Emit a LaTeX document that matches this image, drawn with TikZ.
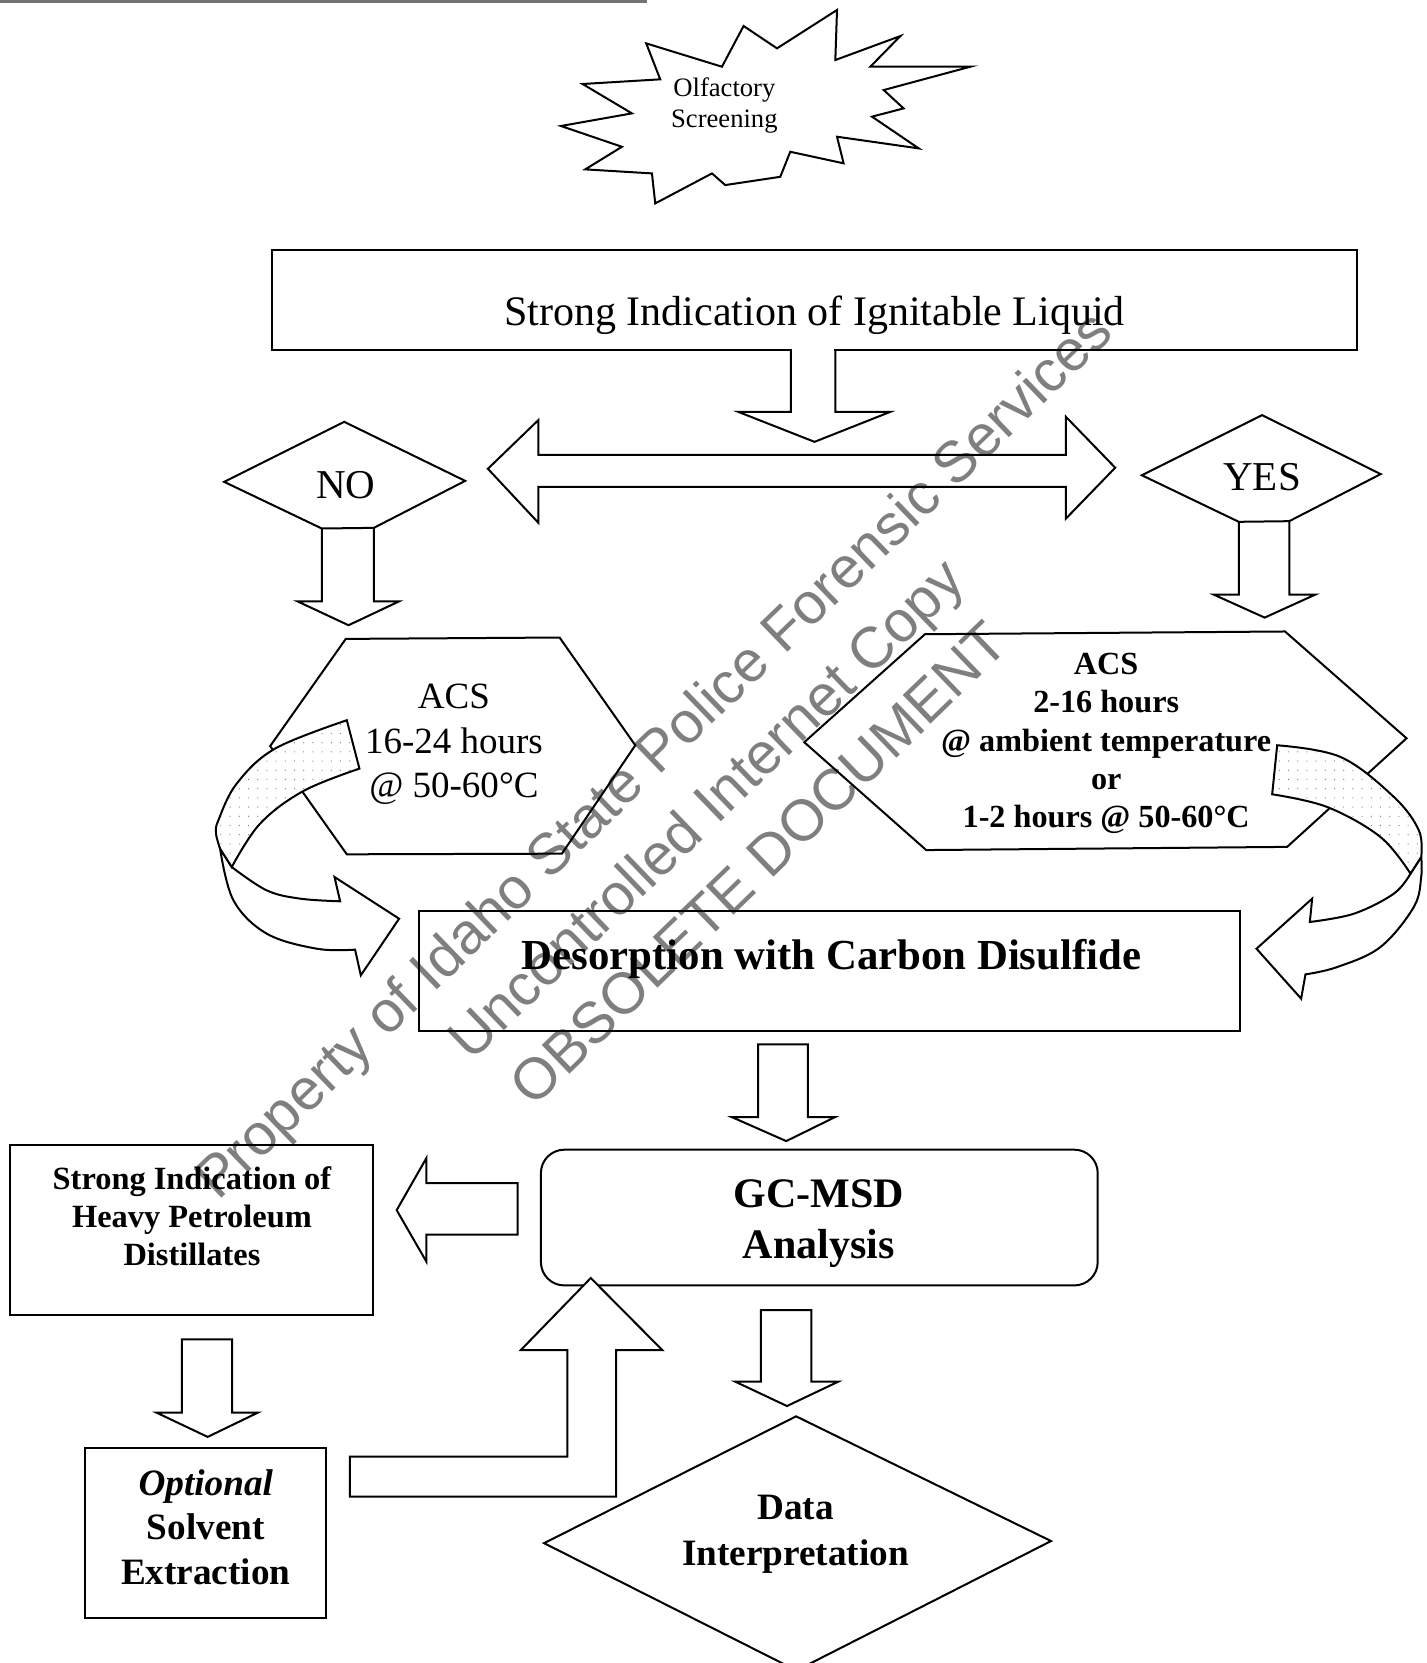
\documentclass[tikz,border=0pt]{standalone}
\usepackage{fontspec}
\setmainfont{Liberation Serif}
\newfontfamily\wmfont{Liberation Sans}
\usetikzlibrary{patterns.meta}
\newcommand{\myfs}[2]{\fontsize{#1}{#2}\selectfont}
\begin{document}
\begin{tikzpicture}[x=0.5301pt,y=-0.5301pt,line join=miter,
  outl/.style={draw=black,line width=1pt,fill=white},
  sidel/.style={draw=black,line width=1pt},
  txt/.style={align=center,inner sep=0pt,text=black},
  dotted back/.style={draw=black,line width=1pt,preaction={fill=white},
     pattern={Dots[radius=0.3pt,distance=4.6pt]},pattern color=black!55}]
\useasboundingbox (0,0) rectangle (1345,1568);

% scan line at top
\draw[line width=1.6pt,black!55] (0,1.5) -- (610,1.5);

% starburst
\draw[outl] (528.9,118.8) -- (586.4,138.4) -- (551.8,159.7) -- (614.7,163.5) -- (617.8,191.8)
  -- (671.3,163.5) -- (683.8,174.5) -- (735.7,166.7) -- (745.1,143.1) -- (795.4,154)
  -- (789.2,128.9) -- (866.2,139.9) -- (822.2,110) -- (852,102.2) -- (833.2,84.9)
  -- (914.9,62.9) -- (820.6,62.9) -- (848.9,34) -- (787.6,56.6) -- (789.2,9.4)
  -- (732.6,45.6) -- (701.1,24.5) -- (680.7,62.9) -- (609.3,40.9) -- (622.5,74.8)
  -- (549.3,79.2) -- (595.8,106.9) -- cycle;
\node[txt,font=\myfs{13.3}{15.9}] (olf) at (683,99.5) {Olfactory\\Screening};

% big box
\draw[outl] (256,236) rectangle (1279,330);
\node[txt,font=\myfs{21}{25}] (big) at (768,297) {Strong Indication of Ignitable Liquid};
% arrow from big box
\fill[white] (746.6,326) rectangle (786.6,333.5);
\draw[sidel] (745.6,330) -- (745.6,388.3) -- (696,388.3) -- (768,416.6) -- (839.5,388.3) -- (787.6,388.3) -- (787.6,330);

% double arrow
\draw[outl] (460,442) -- (507.7,396) -- (507.7,429) -- (1005,429) -- (1005,393) -- (1051.5,441)
  -- (1005,489) -- (1005,459) -- (507.7,459) -- (507.7,493) -- cycle;

% NO diamond and arrow
\draw[outl] (211.3,454.3) -- (324.5,397.7) -- (438.6,453.4) -- (352.5,497.7) -- (303.4,498.3) -- cycle;
\node[txt,font=\myfs{20.5}{24}] (no) at (326,457) {NO};
\draw[sidel] (303.4,498.3) -- (303.4,567) -- (280.5,567) -- (328.6,589.5) -- (376.3,567) -- (352.5,567) -- (352.5,497.7);

% YES diamond and arrow
\draw[outl] (1076.6,448.1) -- (1190,391.4) -- (1301.8,447) -- (1215.6,491.4) -- (1168,492) -- cycle;
\node[txt,font=\myfs{20.5}{24}] (yes) at (1190,450) {YES};
\draw[sidel] (1168,492) -- (1168,560.7) -- (1144.5,560.7) -- (1192.4,582.3) -- (1240,560.7) -- (1215.6,560.7) -- (1215.6,491.4);

% hexagons
\draw[outl] (326,602.4) -- (527.6,601.1) -- (599,702.7) -- (529.8,804.9) -- (327,805.5) -- (254.7,703.5) -- cycle;
\node[txt,font=\myfs{18.5}{22.3}] (acs1) at (428,702) {ACS\\16-24 hours\\@ 50-60°C};
\draw[outl] (872.1,598) -- (1211.6,595.4) -- (1326.2,696.1) -- (1213.6,798.5) -- (873.3,801.5) -- (758.3,699.8) -- cycle;
\node[txt,font=\bfseries\myfs{16.1}{19.1}] (acs2) at (1043,701) {ACS\\2-16 hours\\@ ambient temperature\\or\\1-2 hours @ 50-60°C};

% desorption box
\draw[outl] (395,858.5) rectangle (1169,972);
\node[txt,font=\bfseries\myfs{21.4}{25}] (des) at (784,904) {Desorption with Carbon Disulfide};

% curved arrow left
\draw[outl] (207.5,800.1) -- plot[smooth,tension=0.6] coordinates {(207.5,800.1) (220.1,848.9) (251.5,880.3) (298.7,894.5) (334.8,895.4)}
  -- (340.2,919.6) -- (376.3,866.2) -- (315.4,826.9) -- (320.7,849.8)
  -- plot[smooth,tension=0.6] coordinates {(320.7,849.8) (283,847.3) (251.5,839.5) (218.5,817.5)} -- cycle;
\draw[dotted back] (327,679.1) -- plot[smooth,tension=0.6] coordinates {(327,679.1) (259.4,705.8) (223.2,738.8) (205.9,773.4) (203.7,786) (207.5,800.1)}
  -- (218.5,817.5) -- plot[smooth,tension=0.6] coordinates {(218.5,817.5) (245.2,776.6) (286.1,745.8) (338.9,724.7)} -- cycle;

% curved arrow right
\draw[outl] (1340,808) -- plot[smooth,tension=0.6] coordinates {(1340,808) (1340,826.9) (1333,855.2) (1301.6,892.9) (1260.8,911.8) (1230.9,918.7)}
  -- (1226.8,941.6) -- (1184.7,894.5) -- (1237.2,847.3) -- (1235,869.3)
  -- plot[smooth,tension=0.6] coordinates {(1235,869.3) (1276.5,861.5) (1314.2,842.6) (1329.9,823.7)} -- cycle;
\draw[dotted back] (1204.2,702.7) -- plot[smooth,tension=0.6] coordinates {(1204.2,702.7) (1263.9,713.7) (1314.2,751.4) (1337.8,782.9) (1340,808)}
  -- (1329.9,823.7) -- plot[smooth,tension=0.6] coordinates {(1329.9,823.7) (1301.6,789.2) (1251.4,760.9) (1199.5,748.9)} -- cycle;

% arrow desorption -> GC
\draw[outl] (714.7,984.7) -- (761.7,984.7) -- (761.7,1053.3) -- (787.3,1053.3) -- (741.3,1075.9) -- (690.1,1053.3) -- (714.7,1053.3) -- cycle;

% GC-MSD box
\draw[outl,rounded corners=11.7pt] (510,1084) rectangle (1035,1212);
\node[txt,font=\bfseries\myfs{21}{25.4}] (gc) at (772,1154) {GC-MSD\\Analysis};

% heavy box
\draw[outl] (9.5,1079.5) rectangle (352,1239.5);
\node[txt,font=\bfseries\myfs{16.2}{19}] (heavy) at (181,1147) {Strong Indication of\\Heavy Petroleum\\Distillates};
% arrow GC -> heavy
\draw[outl] (488,1115.5) -- (402,1115.5) -- (402,1092) -- (374,1141) -- (402,1189.5) -- (402,1164) -- (488,1164) -- cycle;

% arrow heavy -> optional
\draw[outl] (171.4,1262.8) -- (218.9,1262.8) -- (218.9,1331.8) -- (243.4,1331.8) -- (195.8,1354.8) -- (147.3,1331.8) -- (171.4,1331.8) -- cycle;

% optional box
\draw[outl] (80,1365.5) rectangle (307.4,1526);
\node[txt,font=\bfseries\myfs{18.6}{22.3}] (opt) at (194,1440) {\textit{Optional}\\Solvent\\Extraction};

% L arrow optional -> GC
\draw[outl] (330,1373.5) -- (535,1373.5) -- (535,1273) -- (491,1273) -- (557,1205) -- (624.5,1273) -- (581,1273) -- (581,1411) -- (330,1411) -- cycle;

% arrow GC -> data
\draw[outl] (717.3,1235.2) -- (765,1235.2) -- (765,1302.7) -- (790.4,1302.7) -- (742,1325.7) -- (693.2,1302.7) -- (717.3,1302.7) -- cycle;

% data diamond
\draw[outl] (750.6,1335.4) -- (991,1453) -- (751,1575) -- (513,1455) -- cycle;
\node[txt,font=\bfseries\myfs{18.6}{22.8}] (data) at (750,1446.5) {Data\\Interpretation};

% watermark
\node[txt,rotate=44,text=black,text opacity=0.5,font=\wmfont\myfs{29}{38}] (wm) at (665,762)
  {Property of Idaho State Police Forensic Services\\Uncontrolled Internet Copy\\OBSOLETE DOCUMENT};
\end{tikzpicture}
\end{document}
